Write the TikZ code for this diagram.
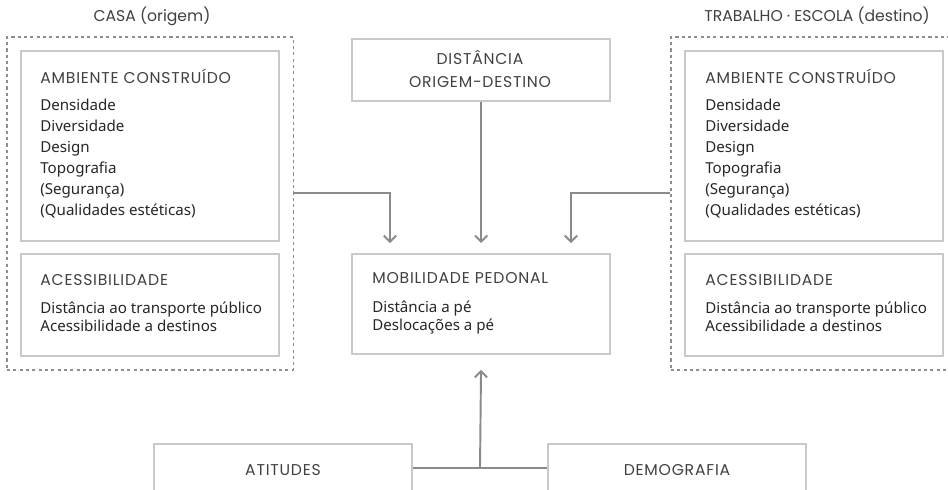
\documentclass[tikz,border=0pt]{standalone}
\usepackage{fontspec}
\setmainfont{Noto Sans}
\newfontfamily\headfont{Poppins}
\newfontfamily\capsfont{Poppins}[LetterSpace=5]
\usepackage{xcolor}
\usetikzlibrary{arrows.meta, positioning, fit}
\definecolor{boxline}{HTML}{C9C9C9}
\definecolor{groupline}{HTML}{8E8E8E}
\definecolor{arrowline}{HTML}{8A8A8A}
\definecolor{headtext}{HTML}{404040}
\definecolor{bodytext}{HTML}{262626}

\begin{document}
\begin{tikzpicture}[x=0.02cm, y=-0.02cm,
  panel/.style={rectangle, draw=boxline, line width=1.1pt, anchor=north west, inner sep=0pt, minimum width=5.17cm},
  group/.style={rectangle, draw=groupline, line width=0.9pt, dash pattern=on 1.8pt off 1.8pt, inner sep=0.26cm},
  title/.style={font=\headfont\fontsize{8.9}{11}\selectfont, text=headtext, inner sep=0pt, anchor=base},
  head/.style={font=\capsfont\fontsize{8.9}{11}\selectfont, text=headtext, inner sep=0pt, anchor=base west},
  items/.style={font=\fontsize{8.6}{11.9}\selectfont, text=bodytext, align=left, inner sep=0pt, anchor=base west},
  arrow/.style={-{Straight Barb[length=3.5pt, width=7pt]}, line width=1.1pt, draw=arrowline, shorten >=0.2cm}
]
\useasboundingbox (0,0) rectangle (948,490);
\clip (0,0) rectangle (948,490);

% origem
\node[title] (casaTitle) at (152,22) {CASA (origem)};
\node[panel, minimum height=3.8cm] (ambL) at (20,50) {};
\node[panel, minimum height=2.04cm] (acesL) at (20,253) {};
\node[group, fit=(ambL) (acesL)] (casa) {};
\node[head] (ambLHead) at (40,83) {AMBIENTE CONSTRUÍDO};
\node[items] (ambLList) at (40,215) {Densidade\\Diversidade\\Design\\Topografia\\(Segurança)\\(Qualidades estéticas)};
\node[head] (acesLHead) at (40,285) {ACESSIBILIDADE};
\node[items, font=\fontsize{8.6}{10.2}\selectfont] (acesLList) at (40,331) {Distância ao transporte público\\Acessibilidade a destinos};

% destino
\node[title] (destTitle) at (817,22) {TRABALHO · ESCOLA (destino)};
\node[panel, minimum height=3.8cm] (ambR) at (684,50) {};
\node[panel, minimum height=2.04cm] (acesR) at (684,253) {};
\node[group, fit=(ambR) (acesR)] (destino) {};
\node[head] (ambRHead) at (705,83) {AMBIENTE CONSTRUÍDO};
\node[items] (ambRList) at (705,215) {Densidade\\Diversidade\\Design\\Topografia\\(Segurança)\\(Qualidades estéticas)};
\node[head] (acesRHead) at (705,285) {ACESSIBILIDADE};
\node[items, font=\fontsize{8.6}{10.2}\selectfont] (acesRList) at (705,331) {Distância ao transporte público\\Acessibilidade a destinos};

% centro
\node[panel, minimum height=1.24cm] (dist) at (351,38) {};
\node[head, anchor=base] (distTop) at (480,65) {DISTÂNCIA};
\node[head, anchor=base] (distBot) at (480,88) {ORIGEM-DESTINO};
\node[panel, minimum height=2.0cm] (mob) at (351,253) {};
\node[head] (mobHead) at (372,283) {MOBILIDADE PEDONAL};
\node[items, font=\fontsize{8.6}{10.2}\selectfont] (mobList) at (372,330) {Distância a pé\\Deslocações a pé};

% fundo
\node[panel, minimum height=3cm] (atit) at (153,443) {};
\node[head, anchor=base] (atitText) at (283,475) {ATITUDES};
\node[panel, minimum height=3cm] (demo) at (547,443) {};
\node[head, anchor=base] (demoText) at (677,475) {DEMOGRAFIA};

\coordinate (joinL) at (390,193);
\coordinate (joinR) at (571,193);
\coordinate (joinB) at (480,468);
\draw[arrow] (casa.east |- joinL) -- (joinL) -- (joinL |- mob.north);
\draw[arrow] (dist.south) -- (mob.north);
\draw[arrow] (destino.west |- joinR) -- (joinR) -- (joinR |- mob.north);
\draw[arrowline, line width=1.1pt] (atit.east |- joinB) -- (demo.west |- joinB);
\draw[arrow, shorten >=0.3cm] (joinB) -- (mob.south);
\end{tikzpicture}
\end{document}
